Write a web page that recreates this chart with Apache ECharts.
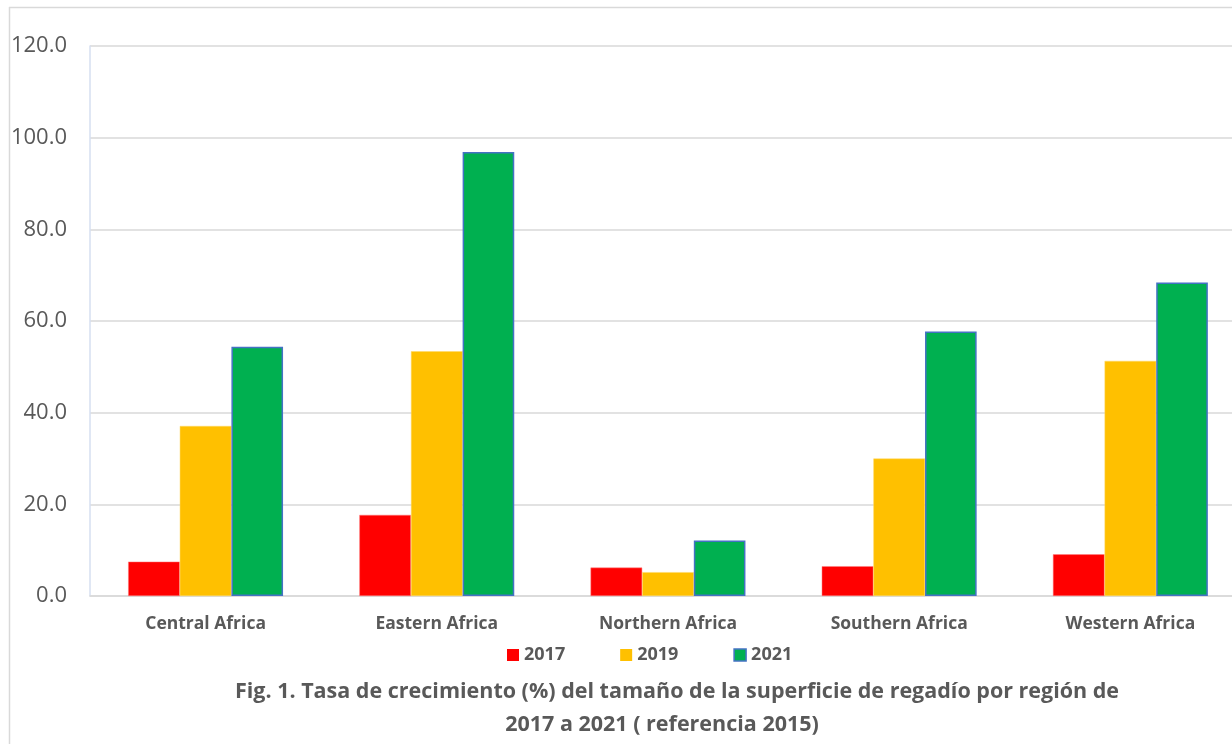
<!DOCTYPE html>
<html>
<head>
<meta charset="utf-8">
<script src="https://cdn.jsdelivr.net/npm/echarts@6/dist/echarts.min.js"></script>
<style>
html,body{margin:0;padding:0;background:#fff;}
#chart{width:1232px;height:744px;}
</style>
</head>
<body>
<div id="chart"></div>
<script>
const categories = ['Central Africa', 'Eastern Africa', 'Northern Africa', 'Southern Africa', 'Western Africa'];
const seriesNames = ['2017', '2019', '2021'];
const values2017 = [7.5, 17.7, 6.2, 6.5, 9.1];
const values2019 = [37.1, 53.4, 5.2, 30.0, 51.3];
const values2021 = [54.4, 96.9, 12.1, 57.7, 68.4];
const yTicks = [0, 20, 40, 60, 80, 100, 120];
const titleLines = ['Fig. 1. Tasa de crecimiento (%) del tamaño de la superficie de regadío por región de', '2017 a 2021 ( referencia 2015)'];

const FONT = '"Open Sans", "Noto Sans", sans-serif';
const titleStyle = {fontFamily: FONT, fontSize: 21.5, fontWeight: 'bold', fill: '#595959', textAlign: 'center', textVerticalAlign: 'middle'};
const chart = echarts.init(document.getElementById('chart'), null, {renderer: 'canvas'});
const option = {
  animation: false,
  backgroundColor: '#fff',
  legend: {
    data: [
      {name: seriesNames[0], itemStyle: {color: '#FF0000', borderWidth: 0}},
      {name: seriesNames[1], itemStyle: {color: '#FFC000', borderWidth: 0}},
      {name: seriesNames[2], itemStyle: {color: '#00B050', borderColor: '#4472C4', borderWidth: 1.5}}
    ],
    top: 641,
    left: 502,
    itemWidth: 12,
    itemHeight: 12,
    itemGap: 55,
    icon: 'rect',
    textStyle: {fontFamily: FONT, fontSize: 18, fontWeight: 'bold', color: '#595959'}
  },
  grid: {left: 90, width: 1156, top: 46, height: 550, outerBoundsMode: 'none', containLabel: false},
  xAxis: {
    type: 'category',
    data: categories,
    axisLine: {show: true, lineStyle: {color: '#d9d9d9', width: 1.5}},
    axisTick: {show: false},
    axisLabel: {fontFamily: FONT, fontSize: 17.5, fontWeight: 'bold', color: '#595959', margin: 19}
  },
  yAxis: {
    type: 'value',
    min: yTicks[0],
    max: yTicks[yTicks.length - 1],
    interval: 20,
    axisLine: {show: true, lineStyle: {color: '#d6dff0', width: 1.5}},
    axisTick: {show: false},
    splitLine: {show: true, lineStyle: {color: '#d9d9d9', width: 1.5}},
    axisLabel: {
      fontFamily: FONT, fontSize: 22, color: '#595959', margin: 23,
      formatter: v => v.toFixed(1)
    }
  },
  series: [
    {name: seriesNames[0], type: 'bar', data: values2017, barGap: '0%', barCategoryGap: '33%',
     itemStyle: {color: '#FF0000', borderColor: '#ff8080', borderWidth: 0.5}},
    {name: seriesNames[1], type: 'bar', data: values2019, barGap: '0%', barCategoryGap: '33%',
     itemStyle: {color: '#FFC000', borderColor: '#ffd966', borderWidth: 0.5}},
    {name: seriesNames[2], type: 'bar', data: values2021, barGap: '0%', barCategoryGap: '33%',
     itemStyle: {color: '#00B050', borderColor: '#4472C4', borderWidth: 1.5}}
  ],
  graphic: [
    {type: 'line', shape: {x1: 9, y1: 7.5, x2: 1232, y2: 7.5}, style: {stroke: '#d9d9d9', lineWidth: 1.5}, silent: true},
    {type: 'line', shape: {x1: 9.5, y1: 7, x2: 9.5, y2: 744}, style: {stroke: '#d9d9d9', lineWidth: 1.5}, silent: true},
    {type: 'text', x: 677, y: 692, style: Object.assign({text: titleLines[0]}, titleStyle), silent: true},
    {type: 'text', x: 662, y: 725, style: Object.assign({text: titleLines[1]}, titleStyle), silent: true}
  ]
};
chart.setOption(option);
</script>
</body>
</html>
